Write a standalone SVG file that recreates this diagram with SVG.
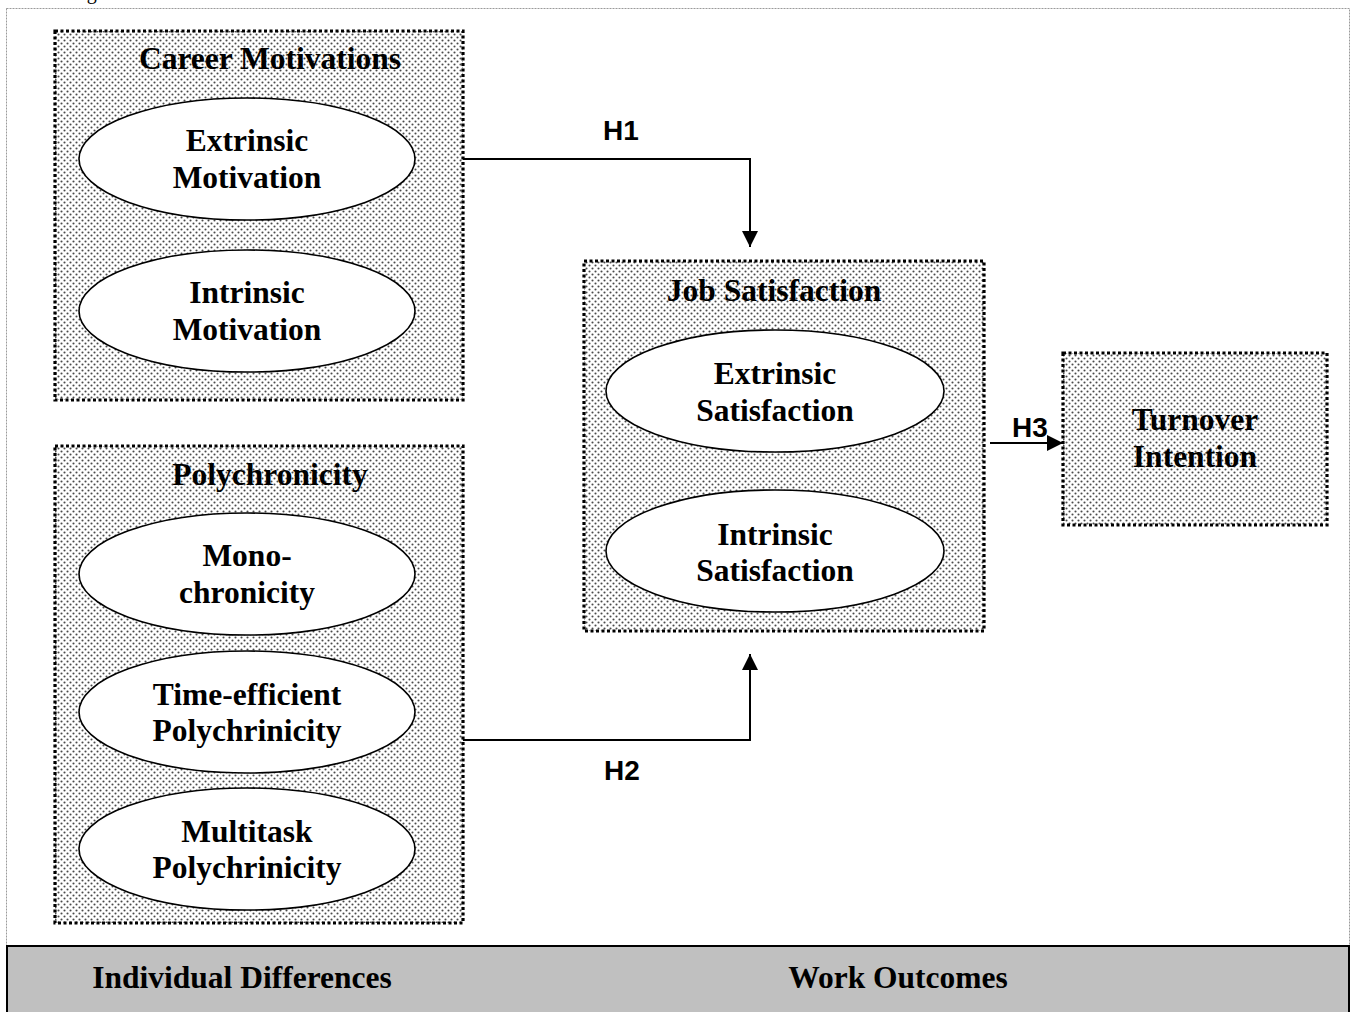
<svg xmlns="http://www.w3.org/2000/svg" width="1356" height="1012" viewBox="0 0 1356 1012">
  <defs>
    <pattern id="dots" width="6" height="6" patternUnits="userSpaceOnUse">
      <rect width="6" height="6" fill="#ffffff"/>
      <circle cx="1.5" cy="1.5" r="1.05" fill="#4a4a4a"/>
      <circle cx="4.5" cy="4.5" r="1.05" fill="#4a4a4a"/>
    </pattern>
    <marker id="tri" viewBox="0 0 16 16" refX="16" refY="8" markerWidth="16" markerHeight="16" orient="auto" markerUnits="userSpaceOnUse">
      <path d="M0,0 L16,8 L0,16 Z" fill="#000"/>
    </marker>
  </defs>
  <style>
    .group { fill: url(#dots); stroke: #000; stroke-width: 3.2; stroke-dasharray: 3 2.5; }
    .oval { fill: #fff; stroke: #000; stroke-width: 1.6; }
    .t { font-family: "Liberation Serif", "Times New Roman", serif; font-weight: bold; font-size: 31.5px; fill: #000; text-anchor: middle; }
    .h { font-family: "Liberation Sans", Arial, sans-serif; font-weight: bold; font-size: 28px; fill: #000; text-anchor: middle; }
    .link { fill: none; stroke: #000; stroke-width: 2; }
  </style>
  <rect width="1356" height="1012" fill="#fff"/>

  <!-- caption line running off the top edge -->
  <text x="70" y="-1" font-family="Liberation Serif, serif" font-size="20">Figure</text>

  <!-- outer frame -->
  <rect x="6.5" y="8.5" width="1343" height="1010" fill="none" stroke="#9a9a9a" stroke-width="1" stroke-dasharray="2 1"/>

  <!-- bottom band -->
  <g id="band">
    <rect x="7" y="946" width="1342" height="70" fill="#c0c0c0" stroke="#000" stroke-width="2"/>
    <text class="t" x="242" y="988">Individual Differences</text>
    <text class="t" x="898" y="988">Work Outcomes</text>
  </g>

  <g id="career-motivations">
    <rect class="group" x="55" y="31" width="408" height="369"/>
    <text class="t" x="270" y="69">Career Motivations</text>
    <g id="extrinsic-motivation">
      <ellipse class="oval" cx="247" cy="159" rx="168" ry="61"/>
      <text class="t" x="247" y="151">Extrinsic</text>
      <text class="t" x="247" y="188">Motivation</text>
    </g>
    <g id="intrinsic-motivation">
      <ellipse class="oval" cx="247" cy="311" rx="168" ry="61"/>
      <text class="t" x="247" y="303">Intrinsic</text>
      <text class="t" x="247" y="340">Motivation</text>
    </g>
  </g>

  <g id="polychronicity">
    <rect class="group" x="55" y="446" width="408" height="477"/>
    <text class="t" x="270" y="485">Polychronicity</text>
    <g id="monochronicity">
      <ellipse class="oval" cx="247" cy="574" rx="168" ry="61"/>
      <text class="t" x="247" y="566">Mono-</text>
      <text class="t" x="247" y="603">chronicity</text>
    </g>
    <g id="time-efficient">
      <ellipse class="oval" cx="247" cy="712" rx="168" ry="61"/>
      <text class="t" x="247" y="705">Time-efficient</text>
      <text class="t" x="247" y="741">Polychrinicity</text>
    </g>
    <g id="multitask">
      <ellipse class="oval" cx="247" cy="849" rx="168" ry="61"/>
      <text class="t" x="247" y="842">Multitask</text>
      <text class="t" x="247" y="878">Polychrinicity</text>
    </g>
  </g>

  <g id="job-satisfaction">
    <rect class="group" x="584" y="261" width="400" height="370"/>
    <text class="t" x="774" y="301">Job Satisfaction</text>
    <g id="extrinsic-satisfaction">
      <ellipse class="oval" cx="775" cy="391" rx="169" ry="61"/>
      <text class="t" x="775" y="384">Extrinsic</text>
      <text class="t" x="775" y="421">Satisfaction</text>
    </g>
    <g id="intrinsic-satisfaction">
      <ellipse class="oval" cx="775" cy="551" rx="169" ry="61"/>
      <text class="t" x="775" y="545">Intrinsic</text>
      <text class="t" x="775" y="581">Satisfaction</text>
    </g>
  </g>

  <g id="turnover-intention">
    <rect class="group" x="1063" y="353" width="264" height="172"/>
    <text class="t" x="1195" y="430">Turnover</text>
    <text class="t" x="1195" y="467">Intention</text>
  </g>

  <g id="connectors">
    <path class="link" d="M463,159 H750 V247" marker-end="url(#tri)"/>
    <text class="h" x="621" y="140">H1</text>
    <path class="link" d="M463,740 H750 V654" marker-end="url(#tri)"/>
    <text class="h" x="622" y="780">H2</text>
    <path class="link" d="M990,443 H1063" marker-end="url(#tri)"/>
    <text class="h" x="1030" y="437">H3</text>
  </g>
</svg>
